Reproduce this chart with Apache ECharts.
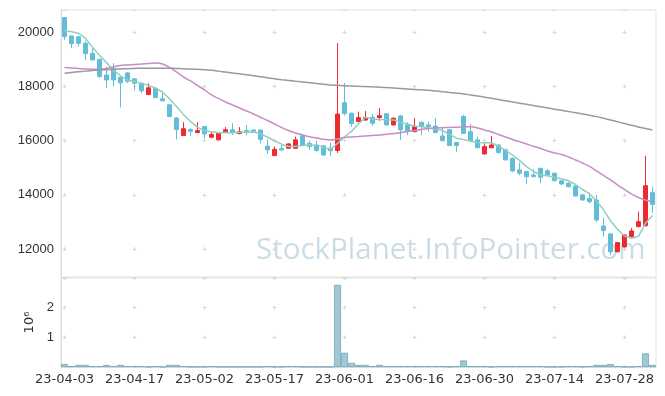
<!DOCTYPE html>
<html><head><meta charset="utf-8">
<script src="https://cdn.jsdelivr.net/npm/echarts@6/dist/echarts.min.js"></script>
<style>html,body{margin:0;padding:0;background:#fff}#c{width:665px;height:396px}</style>
</head><body><div id="c"></div>
<script>
const dates = [
'23-04-03','23-04-04','23-04-05','23-04-06','23-04-07','23-04-10','23-04-11','23-04-12','23-04-13','23-04-14',
'23-04-17','23-04-18','23-04-19','23-04-20','23-04-21','23-04-24','23-04-25','23-04-26','23-04-27','23-04-28',
'23-05-02','23-05-03','23-05-04','23-05-08','23-05-09','23-05-10','23-05-11','23-05-12','23-05-15','23-05-16',
'23-05-17','23-05-18','23-05-19','23-05-22','23-05-23','23-05-24','23-05-25','23-05-26','23-05-30','23-05-31',
'23-06-01','23-06-02','23-06-05','23-06-07','23-06-08','23-06-09','23-06-12','23-06-13','23-06-14','23-06-15',
'23-06-16','23-06-19','23-06-20','23-06-21','23-06-22','23-06-23','23-06-26','23-06-27','23-06-28','23-06-29',
'23-06-30','23-07-03','23-07-04','23-07-05','23-07-06','23-07-07','23-07-10','23-07-11','23-07-12','23-07-13',
'23-07-14','23-07-17','23-07-18','23-07-19','23-07-20','23-07-21','23-07-24','23-07-25','23-07-26','23-07-27',
'23-07-28','23-07-31','23-08-01','23-08-02','23-08-03'];

const openP = [
20540,19860,19830,19590,19220,19000,18420,18660,18330,18500,
18280,18120,17700,17930,17550,17320,16840,16190,16410,16300,
16520,16130,16030,16300,16400,16260,16370,16390,16390,15800,
15450,15710,15720,15720,16180,15900,15840,15810,15720,15640,
17400,17010,16700,16760,16860,16850,16990,16580,16910,16590,
16330,16680,16580,16540,16170,16400,15930,16890,16330,16030,
15510,15740,15840,15660,15350,14920,14860,14730,14980,14890,
14800,14520,14430,14330,14000,13870,13810,12850,12560,11900,
12080,12460,12830,12860,14080];
const closeP = [
19840,19580,19590,19210,18980,18370,18240,18240,18130,18190,
18120,17840,17950,17590,17470,16890,16410,16440,16350,16370,
16250,16230,16270,16400,16300,16330,16300,16300,16050,15660,
15680,15660,15880,16030,15840,15780,15640,15470,15630,16980,
17000,16630,16850,16860,16640,16920,16580,16830,16400,16330,
16530,16520,16520,16300,16000,15820,15820,16270,16000,15740,
15780,15840,15560,15290,14880,14800,14670,14670,14650,14730,
14520,14400,14300,13960,13810,13750,13070,12680,11900,12240,
12520,12670,13010,14340,13650];
const lowP = [
19720,19410,19470,18980,18960,18310,17930,18000,17230,18120,
17850,17750,17690,17570,17450,16870,16050,16170,16170,16270,
16090,16090,16000,16280,16210,16240,16210,16280,15900,15510,
15430,15620,15690,15700,15820,15660,15590,15450,15440,15550,
16930,16510,16690,16740,16540,16730,16560,16560,16030,16210,
16320,16210,16330,16270,15980,15800,15590,16250,15980,15720,
15490,15720,15530,15270,14850,14730,14400,14650,14430,14720,
14500,14380,14280,13940,13790,13690,13010,12460,11780,11880,
12060,12440,12800,12840,13330];
const highP = [
20560,19880,19850,19690,19450,19020,18730,18860,18360,18530,
18300,18140,18120,17970,17810,17340,16860,16680,16460,16680,
16530,16330,16300,16500,16640,16500,16580,16420,16400,16050,
15780,15900,15900,16150,16200,16000,16000,15830,15930,19600,
18130,17040,17070,17090,16990,17200,17000,16850,16950,16680,
16830,16690,16700,16830,16500,16420,15940,16950,16620,16150,
15900,16170,15860,15700,15380,15190,14880,14950,14990,14950,
14820,14540,14460,14350,14020,14080,14000,13150,12600,12260,
12540,12770,13380,15440,14300];
const volume = [
100000,30000,70000,70000,30000,30000,70000,30000,70000,30000,
30000,30000,10000,30000,10000,70000,70000,30000,10000,10000,
10000,30000,10000,10000,10000,10000,10000,10000,10000,30000,
10000,10000,30000,30000,10000,10000,10000,10000,10000,2770000,
480000,140000,70000,70000,30000,70000,30000,30000,30000,30000,
30000,30000,30000,30000,30000,10000,30000,220000,30000,30000,
30000,10000,30000,30000,30000,30000,30000,30000,30000,10000,
10000,10000,30000,30000,10000,30000,70000,70000,100000,30000,
10000,10000,30000,460000,70000];
const ma5 = [
20060,20020,19960,19780,19440,19146,18878,18608,18392,18234,
18184,18104,18046,17938,17794,17548,17262,16960,16712,16492,
16364,16328,16294,16304,16290,16306,16320,16326,16256,16128,
15998,15870,15786,15782,15818,15838,15834,15752,15672,15900,
16144,16342,16618,16864,16796,16780,16770,16766,16674,16612,
16534,16522,16460,16440,16374,16232,16092,16042,15982,15930,
15922,15926,15784,15642,15470,15274,15040,14862,14734,14704,
14648,14594,14520,14382,14198,14044,13778,13454,13042,12728,
12482,12402,12468,12956,13238];
const ma20 = [
18701,18683,18664,18646,18635,18635,18664,18720,18775,18793,
18812,18830,18849,18867,18830,18701,18535,18351,18203,18037,
17871,17686,17557,17428,17317,17207,17096,16985,16864,16745,
16616,16487,16376,16284,16210,16148,16100,16052,16026,16063,
16118,16137,16155,16174,16192,16210,16236,16266,16295,16340,
16376,16413,16450,16469,16480,16487,16498,16506,16517,16469,
16395,16321,16229,16137,16044,15963,15878,15793,15712,15620,
15546,15491,15399,15288,15177,15048,14882,14716,14550,14365,
14199,14033,13904,13812,13749];
const ma60 = [
18491,18517,18542,18565,18587,18605,18620,18635,18646,18657,
18664,18672,18675,18675,18675,18672,18664,18657,18646,18631,
18616,18594,18565,18531,18498,18465,18432,18395,18358,18321,
18284,18251,18221,18192,18166,18140,18111,18081,18055,18041,
18026,18015,18004,17996,17985,17974,17960,17941,17923,17904,
17889,17875,17860,17834,17805,17779,17753,17723,17686,17646,
17605,17561,17517,17472,17428,17384,17340,17295,17251,17207,
17162,17118,17074,17030,16985,16937,16886,16827,16764,16698,
16631,16565,16506,16450,16395];
const priceTicks = [12000, 14000, 16000, 18000, 20000];
const volumeTicks = [1000000, 2000000];

const UP = '#ee2a2f', DOWN = '#62bdd8';
const CROSS = '#d9d9d9';
const FONT = 'Liberation Sans';

const candles = dates.map((d, i) => [openP[i], closeP[i], lowP[i], highP[i]]);

const chart = echarts.init(document.getElementById('c'), null, {renderer: 'canvas'});
chart.setOption({
  animation: false,
  backgroundColor: '#fff',
  textStyle: {fontFamily: FONT},
  graphic: [{
    type: 'text', left: 256, top: 236, z: 0, silent: true,
    style: {text: 'StockPlanet.InfoPointer.com', fontSize: 29.5, fontFamily: 'Open Sans', fill: '#cadde7'}
  }],
  grid: [
    {left: 61, right: 9, top: 10, height: 267, show: true, borderColor: '#e2e2e2', borderWidth: 1},
    {left: 61, right: 9, top: 278, height: 89, show: true, borderColor: '#e2e2e2', borderWidth: 1}
  ],
  xAxis: [
    {type: 'category', gridIndex: 0, data: dates, boundaryGap: true,
     axisLine: {show: false}, axisTick: {show: false}, axisLabel: {show: false},
     splitLine: {show: true, interval: 9, alignWithLabel: true,
       lineStyle: {color: CROSS, width: 1, type: [4, 50.21], dashOffset: 33.98}}},
    {type: 'category', gridIndex: 1, data: dates, boundaryGap: true,
     axisLine: {show: true, lineStyle: {color: '#dddddd'}}, axisTick: {show: false},
     axisLabel: {interval: 9, color: '#333', fontSize: 13, margin: 6, fontFamily: 'DejaVu Sans'},
     splitLine: {show: true, interval: 9, alignWithLabel: true,
       lineStyle: {color: CROSS, width: 1, type: [4, 25.667], dashOffset: 2}}}
  ],
  yAxis: [
    {type: 'value', gridIndex: 0, min: 10970, max: 20820, scale: true,
     axisLine: {show: true, lineStyle: {color: '#dddddd'}}, axisTick: {show: false},
     axisLabel: {color: '#333', fontSize: 13, margin: 7, fontFamily: FONT,
       formatter: v => priceTicks.indexOf(Math.round(v)) >= 0 ? String(Math.round(v)) : ''},
     splitLine: {show: true, lineStyle: {color: CROSS, width: 1, type: [4, 66], dashOffset: 68.5}}},
    {type: 'value', gridIndex: 1, min: 0, max: 3000000, interval: 1000000,
     name: '10⁶', nameLocation: 'middle', nameGap: 24, nameRotate: 90,
     nameTextStyle: {color: '#333', fontSize: 13, fontFamily: 'DejaVu Sans'},
     axisLine: {show: true, lineStyle: {color: '#dddddd'}}, axisTick: {show: false},
     axisLabel: {color: '#333', fontSize: 13, margin: 7, fontFamily: FONT,
       formatter: v => volumeTicks.indexOf(v) >= 0 ? String(v / 1000000) : ''},
     splitLine: {show: true, lineStyle: {color: CROSS, width: 1, type: [4, 66], dashOffset: 68.5}}}
  ],
  series: [
    {type: 'candlestick', xAxisIndex: 0, yAxisIndex: 0, data: candles, barWidth: 5, z: 3,
     itemStyle: {color: UP, color0: DOWN, borderColor: UP, borderColor0: DOWN, borderWidth: 1}},
    {type: 'line', xAxisIndex: 0, yAxisIndex: 0, data: ma5, symbol: 'none', smooth: false, z: 4,
     lineStyle: {color: '#8fd1c1', width: 1.5}},
    {type: 'line', xAxisIndex: 0, yAxisIndex: 0, data: ma20, symbol: 'none', smooth: true, z: 4,
     lineStyle: {color: '#c98bc5', width: 1.5}},
    {type: 'line', xAxisIndex: 0, yAxisIndex: 0, data: ma60, symbol: 'none', smooth: true, z: 4,
     lineStyle: {color: '#9a9a9a', width: 1.5}},
    {type: 'bar', xAxisIndex: 1, yAxisIndex: 1, data: volume, barCategoryGap: '0%',
     itemStyle: {color: '#a2c8d5', borderColor: '#6fa6ba', borderWidth: 0.8}}
  ]
});
</script></body></html>
